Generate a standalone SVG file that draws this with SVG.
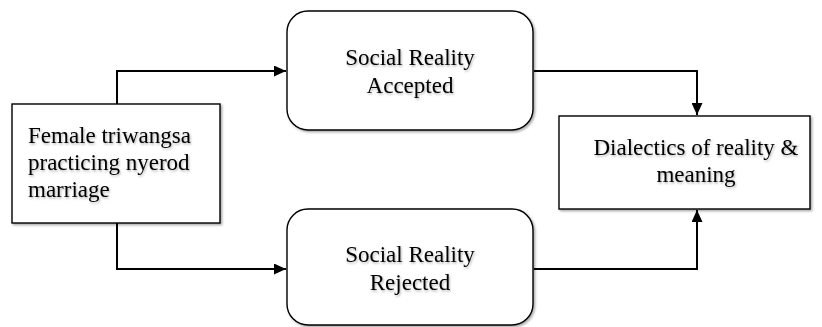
<svg xmlns="http://www.w3.org/2000/svg" width="822" height="327" viewBox="0 0 822 327">
<style>
.box{fill:#fff;stroke:#000;stroke-width:1.4;filter:url(#sh)}
.t{font-family:"Liberation Serif","Times New Roman",serif;font-size:23px;fill:#000;filter:url(#tsh)}
.c{text-anchor:middle}
.ln{fill:none;stroke:#000;stroke-width:2}
</style>
<defs>
<filter id="sh" x="-10%" y="-10%" width="125%" height="125%"><feDropShadow dx="1.5" dy="1.5" stdDeviation="1.2" flood-color="#000" flood-opacity="0.35"/></filter>
<filter id="tsh" x="-10%" y="-20%" width="125%" height="150%"><feDropShadow dx="1" dy="1.5" stdDeviation="1" flood-color="#000" flood-opacity="0.3"/></filter>
<marker id="ah" viewBox="0 0 12 11" refX="12" refY="5.5" markerWidth="12" markerHeight="11" markerUnits="userSpaceOnUse" orient="auto"><path d="M0,0 L12,5.5 L0,11 Z" fill="#000"/></marker>
</defs>
<g id="connectors">
<path class="ln" d="M117,104 V71 H286" marker-end="url(#ah)"/>
<path class="ln" d="M117,223 V269 H286" marker-end="url(#ah)"/>
<path class="ln" d="M534,71 H697 V115" marker-end="url(#ah)"/>
<path class="ln" d="M534,269 H697 V210" marker-end="url(#ah)"/>
</g>
<g id="female">
<rect class="box" x="12" y="104" width="208" height="119"/>
<text class="t" x="28" y="143">Female triwangsa</text>
<text class="t" x="28" y="170">practicing nyerod</text>
<text class="t" x="28" y="197">marriage</text>
</g>
<g id="accepted">
<rect class="box" x="287" y="11" width="246" height="119" rx="21"/>
<text class="t c" x="410" y="65">Social Reality</text>
<text class="t c" x="410" y="93">Accepted</text>
</g>
<g id="rejected">
<rect class="box" x="287" y="209" width="246" height="116" rx="21"/>
<text class="t c" x="410" y="262">Social Reality</text>
<text class="t c" x="410" y="290">Rejected</text>
</g>
<g id="dialectics">
<rect class="box" x="559" y="116" width="251" height="93"/>
<text class="t c" x="696" y="155">Dialectics of reality &amp;</text>
<text class="t c" x="696" y="182">meaning</text>
</g>
</svg>
